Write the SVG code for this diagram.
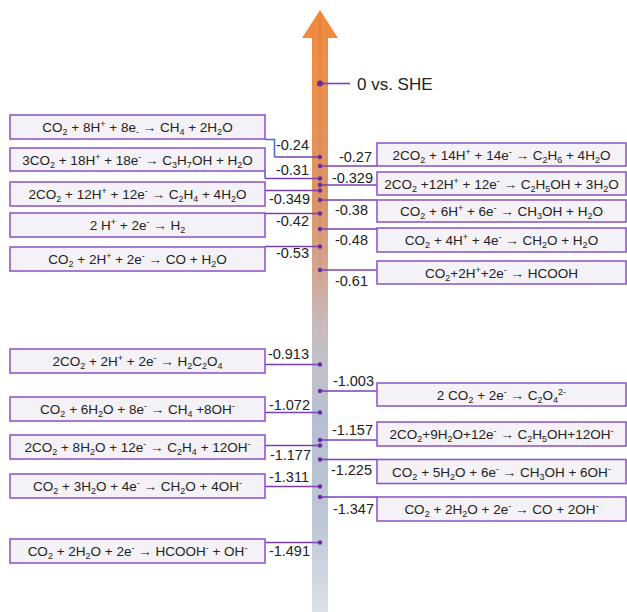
<svg xmlns="http://www.w3.org/2000/svg" width="627" height="612" viewBox="0 0 627 612">
<defs>
<linearGradient id="axisGrad" gradientUnits="userSpaceOnUse" x1="0" y1="10" x2="0" y2="612">
<stop offset="0" stop-color="#F08A3E"/>
<stop offset="0.15" stop-color="#EA8F50"/>
<stop offset="0.32" stop-color="#DA9569"/>
<stop offset="0.43" stop-color="#D3A58F"/>
<stop offset="0.50" stop-color="#CBB6B4"/>
<stop offset="0.57" stop-color="#C3C1C8"/>
<stop offset="0.68" stop-color="#B5BFD2"/>
<stop offset="0.85" stop-color="#BEC7D7"/>
<stop offset="1" stop-color="#DDE1E8"/>
</linearGradient>
<linearGradient id="midGrad" gradientUnits="userSpaceOnUse" x1="0" y1="10" x2="0" y2="612">
<stop offset="0" stop-color="#C8601E" stop-opacity="0.35"/>
<stop offset="0.45" stop-color="#C8601E" stop-opacity="0.12"/>
<stop offset="0.6" stop-color="#C8601E" stop-opacity="0"/>
</linearGradient>
</defs>
<style>
.box{fill:#F5F2F7;stroke:#8E5CC8;stroke-width:1.6}
.eq{font-family:"Liberation Sans",Arial,sans-serif;font-size:13.5px;fill:#222;text-anchor:middle}
.b{font-size:9px;baseline-shift:-3px}
.p{font-size:9px;baseline-shift:5px}
.lbl{font-family:"Liberation Sans",Arial,sans-serif;font-size:14.5px;fill:#222}
.l{text-anchor:end}
.r{text-anchor:end}
.conn{fill:none;stroke:#7B3FB8;stroke-width:1.6}
.blue{stroke:#4A6FC4}
.dot{fill:#6B2C9F}
</style>
<rect x="0" y="0" width="627" height="612" fill="#FFFFFF"/>

<g id="axis">
<path d="M312,38 H302 L320,10 L338,38 H328 V612 H312 Z" fill="url(#axisGrad)"/>
<line x1="320" y1="14" x2="320" y2="612" stroke="url(#midGrad)" stroke-width="1.5"/>
</g>

<g id="zero">
<line class="conn" x1="320" y1="83.5" x2="350" y2="83.5"/>
<circle class="dot" cx="320" cy="83.5" r="3"/>
<text x="357" y="90" font-family="'Liberation Sans',Arial,sans-serif" font-size="17" fill="#222">0 vs. SHE</text>
</g>

<g id="connectors">
<path class="conn blue" d="M265,139.5 H274.5 V157"/>
<path class="conn" d="M274.5,157 H320"/>
<path class="conn blue" d="M265,171 V178.5"/>
<path class="conn" d="M265,178.5 H320"/>
<path class="conn" d="M265,190.5 H320"/>
<path class="conn" d="M265,213.5 H320"/>
<path class="conn" d="M265,246.5 H320"/>
<path class="conn" d="M265,364.5 H320"/>
<path class="conn" d="M265,412.5 H320"/>
<path class="conn" d="M265,445.5 H320"/>
<path class="conn" d="M265,486.5 H320"/>
<path class="conn" d="M265,542.5 H320"/>
<path class="conn" d="M320,166 H377"/>
<path class="conn" d="M320,185 H377"/>
<path class="conn" d="M320,200 H377"/>
<path class="conn" d="M320,229 H377"/>
<path class="conn" d="M320,270 H377"/>
<path class="conn" d="M320,391 H377"/>
<path class="conn" d="M320,440 H377"/>
<path class="conn" d="M320,459.5 H377"/>
<path class="conn" d="M320,497 H377"/>
<g id="dots">
<circle class="dot" cx="320" cy="157" r="2.2"/>
<circle class="dot" cx="320" cy="166" r="2.2"/>
<circle class="dot" cx="320" cy="178.5" r="2.2"/>
<circle class="dot" cx="320" cy="185" r="2.2"/>
<circle class="dot" cx="320" cy="190.5" r="2.2"/>
<circle class="dot" cx="320" cy="200" r="2.2"/>
<circle class="dot" cx="320" cy="213.5" r="2.2"/>
<circle class="dot" cx="320" cy="229" r="2.2"/>
<circle class="dot" cx="320" cy="246.5" r="2.2"/>
<circle class="dot" cx="320" cy="270" r="2.2"/>
<circle class="dot" cx="320" cy="364.5" r="2.2"/>
<circle class="dot" cx="320" cy="391" r="2.2"/>
<circle class="dot" cx="320" cy="412.5" r="2.2"/>
<circle class="dot" cx="320" cy="440" r="2.2"/>
<circle class="dot" cx="320" cy="445.5" r="2.2"/>
<circle class="dot" cx="320" cy="459.5" r="2.2"/>
<circle class="dot" cx="320" cy="486.5" r="2.2"/>
<circle class="dot" cx="320" cy="497" r="2.2"/>
<circle class="dot" cx="320" cy="542.5" r="2.2"/>
</g>
</g>

<g id="potential-labels">
<text class="lbl l" x="309" y="150">-0.24</text>
<text class="lbl l" x="309" y="175">-0.31</text>
<text class="lbl l" x="310" y="204">-0.349</text>
<text class="lbl l" x="309" y="225.5">-0.42</text>
<text class="lbl l" x="309" y="258">-0.53</text>
<text class="lbl l" x="309" y="358.5">-0.913</text>
<text class="lbl l" x="310" y="410">-1.072</text>
<text class="lbl l" x="311" y="460">-1.177</text>
<text class="lbl l" x="309" y="481.5">-1.311</text>
<text class="lbl l" x="310" y="556">-1.491</text>
<text class="lbl r" x="372" y="161.5">-0.27</text>
<text class="lbl r" x="373" y="182.5">-0.329</text>
<text class="lbl r" x="368" y="215">-0.38</text>
<text class="lbl r" x="368" y="245">-0.48</text>
<text class="lbl r" x="368" y="286">-0.61</text>
<text class="lbl r" x="374" y="386">-1.003</text>
<text class="lbl r" x="373" y="435">-1.157</text>
<text class="lbl r" x="372" y="475">-1.225</text>
<text class="lbl r" x="374" y="514">-1.347</text>
</g>

<g id="L1"><rect class="box" x="10" y="115" width="255" height="24"/><text class="eq" x="137.5" y="132">CO<tspan class="b">2</tspan> + 8H<tspan class="p">+</tspan> + 8e<tspan class="b">-</tspan> → CH<tspan class="b">4</tspan> + 2H<tspan class="b">2</tspan>O</text></g>
<g id="L2"><rect class="box" x="10" y="148" width="255" height="23"/><text class="eq" x="137.5" y="164.5">3CO<tspan class="b">2</tspan> + 18H<tspan class="p">+</tspan> + 18e<tspan class="p">-</tspan> → C<tspan class="b">3</tspan>H<tspan class="b">7</tspan>OH + H<tspan class="b">2</tspan>O</text></g>
<g id="L3"><rect class="box" x="10" y="182" width="255" height="24"/><text class="eq" x="137.5" y="199">2CO<tspan class="b">2</tspan> + 12H<tspan class="p">+</tspan> + 12e<tspan class="p">-</tspan> → C<tspan class="b">2</tspan>H<tspan class="b">4</tspan> + 4H<tspan class="b">2</tspan>O</text></g>
<g id="L4"><rect class="box" x="10" y="213" width="255" height="24"/><text class="eq" x="137.5" y="230">2 H<tspan class="p">+</tspan> + 2e<tspan class="p">-</tspan> → H<tspan class="b">2</tspan></text></g>
<g id="L5"><rect class="box" x="10" y="247" width="255" height="24"/><text class="eq" x="137.5" y="264">CO<tspan class="b">2</tspan> + 2H<tspan class="p">+</tspan> + 2e<tspan class="p">-</tspan> → CO + H<tspan class="b">2</tspan>O</text></g>
<g id="L6"><rect class="box" x="10" y="349" width="255" height="24"/><text class="eq" x="137.5" y="366">2CO<tspan class="b">2</tspan> + 2H<tspan class="p">+</tspan> + 2e<tspan class="p">-</tspan> → H<tspan class="b">2</tspan>C<tspan class="b">2</tspan>O<tspan class="b">4</tspan></text></g>
<g id="L7"><rect class="box" x="10" y="397" width="255" height="24"/><text class="eq" x="137.5" y="414">CO<tspan class="b">2</tspan> + 6H<tspan class="b">2</tspan>O + 8e<tspan class="p">-</tspan> → CH<tspan class="b">4</tspan> +8OH<tspan class="p">-</tspan></text></g>
<g id="L8"><rect class="box" x="10" y="435" width="255" height="24"/><text class="eq" x="137.5" y="452">2CO<tspan class="b">2</tspan> + 8H<tspan class="b">2</tspan>O + 12e<tspan class="p">-</tspan> → C<tspan class="b">2</tspan>H<tspan class="b">4</tspan> + 12OH<tspan class="p">-</tspan></text></g>
<g id="L9"><rect class="box" x="10" y="474" width="255" height="24"/><text class="eq" x="137.5" y="491">CO<tspan class="b">2</tspan> + 3H<tspan class="b">2</tspan>O + 4e<tspan class="p">-</tspan> → CH<tspan class="b">2</tspan>O + 4OH<tspan class="p">-</tspan></text></g>
<g id="L10"><rect class="box" x="10" y="539" width="255" height="24"/><text class="eq" x="137.5" y="556">CO<tspan class="b">2</tspan> + 2H<tspan class="b">2</tspan>O + 2e<tspan class="p">-</tspan> → HCOOH<tspan class="p">-</tspan> + OH<tspan class="p">-</tspan></text></g>

<g id="RA"><rect class="box" x="377" y="143" width="249" height="23"/><text class="eq" x="501.5" y="159.5">2CO<tspan class="b">2</tspan> + 14H<tspan class="p">+</tspan> + 14e<tspan class="p">-</tspan> → C<tspan class="b">2</tspan>H<tspan class="b">6</tspan> + 4H<tspan class="b">2</tspan>O</text></g>
<g id="RB"><rect class="box" x="377" y="172" width="249" height="23"/><text class="eq" x="501.5" y="188.5">2CO<tspan class="b">2</tspan> +12H<tspan class="p">+</tspan> + 12e<tspan class="p">-</tspan> → C<tspan class="b">2</tspan>H<tspan class="b">5</tspan>OH + 3H<tspan class="b">2</tspan>O</text></g>
<g id="RC"><rect class="box" x="377" y="200" width="249" height="22"/><text class="eq" x="501.5" y="216">CO<tspan class="b">2</tspan> + 6H<tspan class="p">+</tspan> + 6e<tspan class="p">-</tspan> → CH<tspan class="b">3</tspan>OH + H<tspan class="b">2</tspan>O</text></g>
<g id="RD"><rect class="box" x="377" y="228" width="249" height="24"/><text class="eq" x="501.5" y="245">CO<tspan class="b">2</tspan> + 4H<tspan class="p">+</tspan> + 4e<tspan class="p">-</tspan> → CH<tspan class="b">2</tspan>O + H<tspan class="b">2</tspan>O</text></g>
<g id="RE"><rect class="box" x="377" y="261" width="249" height="23"/><text class="eq" x="501.5" y="277.5">CO<tspan class="b">2</tspan>+2H<tspan class="p">+</tspan>+2e<tspan class="p">-</tspan> → HCOOH</text></g>
<g id="RF"><rect class="box" x="377" y="383" width="249" height="23"/><text class="eq" x="501.5" y="399.5">2 CO<tspan class="b">2</tspan> + 2e<tspan class="p">-</tspan> → C<tspan class="b">2</tspan>O<tspan class="b">4</tspan><tspan class="p">2-</tspan></text></g>
<g id="RG"><rect class="box" x="377" y="422" width="249" height="24"/><text class="eq" x="501.5" y="439">2CO<tspan class="b">2</tspan>+9H<tspan class="b">2</tspan>O+12e<tspan class="p">-</tspan> → C<tspan class="b">2</tspan>H<tspan class="b">5</tspan>OH+12OH<tspan class="p">-</tspan></text></g>
<g id="RH"><rect class="box" x="377" y="459.5" width="249" height="24"/><text class="eq" x="501.5" y="476.5">CO<tspan class="b">2</tspan> + 5H<tspan class="b">2</tspan>O + 6e<tspan class="p">-</tspan> → CH<tspan class="b">3</tspan>OH + 6OH<tspan class="p">-</tspan></text></g>
<g id="RI"><rect class="box" x="377" y="497" width="249" height="24"/><text class="eq" x="501.5" y="514">CO<tspan class="b">2</tspan> + 2H<tspan class="b">2</tspan>O + 2e<tspan class="p">-</tspan> → CO + 2OH<tspan class="p">-</tspan></text></g>
</svg>
